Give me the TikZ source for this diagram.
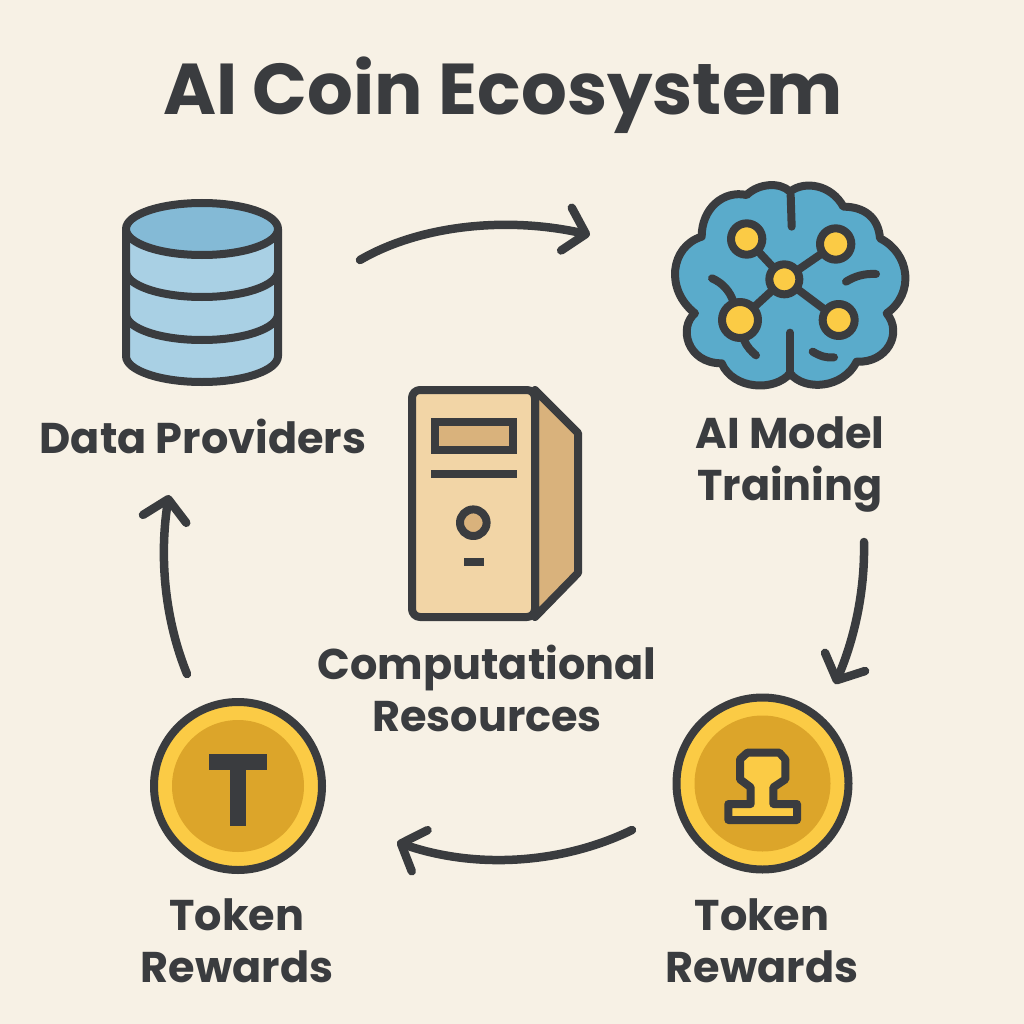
\documentclass[tikz,border=0pt]{standalone}
\usepackage{fontspec}
\setmainfont{Poppins}
\usetikzlibrary{arrows.meta,bending}
\definecolor{bg}{HTML}{F7F1E5}
\definecolor{ink}{HTML}{3A3C3F}
\definecolor{brainblue}{HTML}{5AABCB}
\definecolor{dbtop}{HTML}{84BAD6}
\definecolor{dbband}{HTML}{A9D0E4}
\definecolor{pc}{HTML}{F2D5A6}
\definecolor{pcdark}{HTML}{D9B27C}
\definecolor{gold}{HTML}{FBCB45}
\definecolor{golddark}{HTML}{DCA52A}
\tikzset{
  icon/.style={draw=ink,line width=8pt,line join=round,line cap=round},
  flow/.style={draw=ink,line width=8.5pt,line cap=round,-{Straight Barb[length=20pt,width=44pt,round,flex]}},
  label/.style={font=\fontsize{43}{52}\selectfont\bfseries,text=ink,align=center,inner sep=0pt},
  title/.style={font=\fontsize{72}{80}\selectfont\bfseries,text=ink,inner sep=0pt},
  neuron/.style={icon,fill=gold}
}
\begin{document}
\begin{tikzpicture}[x=1pt,y=-1pt]
\path[use as bounding box,fill=bg] (0,0) rectangle (1024,1024);
\node[title] (ttl) at (503,95) {AI Coin Ecosystem};
% database
\path[icon,fill=dbband] (126,229) -- (126,356) arc[start angle=180,end angle=360,x radius=76,y radius=-26] -- (278,229) -- cycle;
\draw[icon] (126,271) arc[start angle=180,end angle=360,x radius=76,y radius=-26];
\draw[icon] (126,314) arc[start angle=180,end angle=360,x radius=76,y radius=-26];
\path[icon,fill=dbtop] (202,229) ellipse[x radius=76,y radius=26];
\node[label] (data) at (203,436) {Data Providers};
% brain
\begin{scope}[shift={(640,170)},scale=1/3]
\path[icon,fill=brainblue] (450,65) .. controls (420,35) and (355,40) .. (320,75)
 .. controls (250,60) and (185,115) .. (185,200)
 .. controls (90,230) and (75,360) .. (165,430)
 .. controls (115,470) and (140,580) .. (245,580)
 .. controls (280,660) and (405,665) .. (450,610)
 .. controls (495,665) and (610,655) .. (650,575)
 .. controls (740,580) and (790,490) .. (740,430)
 .. controls (825,370) and (810,250) .. (720,205)
 .. controls (715,140) and (670,110) .. (610,110)
 .. controls (575,45) and (495,30) .. (450,65) -- cycle;
\draw[icon] (452,75) -- (455,170);
\draw[icon] (450,488) -- (450,605);
\draw[icon] (216,325) .. controls (250,340) and (270,365) .. (280,395);
\draw[icon] (312,510) .. controls (320,530) and (335,545) .. (348,556);
\draw[icon] (618,335) .. controls (645,318) and (675,310) .. (708,312);
\draw[icon] (518,545) .. controls (540,558) and (560,565) .. (582,562);
\coordinate (hub) at (433,328);
\coordinate (n1) at (320,207);
\coordinate (n2) at (587,222);
\coordinate (n3) at (300,450);
\coordinate (n4) at (596,450);
\draw[icon] (hub) -- (n1) (hub) -- (n2) (hub) -- (n3) (hub) -- (n4);
\path[neuron] (n1) circle (47);
\path[neuron] (n2) circle (47);
\path[neuron] (n3) circle (54);
\path[neuron] (n4) circle (48);
\path[neuron] (hub) circle (45);
\end{scope}
\node[label] (train) at (790,464) {AI Model\\Training};
% server
\path[icon,fill=pcdark,miter limit=2] (535,390) -- (578,433) -- (578,573) -- (535,617) -- cycle;
\path[icon,fill=pc,rounded corners=8pt] (412,390) rectangle (535,617);
\path[icon,fill=pcdark,line cap=butt,line join=miter] (435,421.5) rectangle (512.5,450);
\draw[icon,line cap=butt] (431,474) -- (516.5,474);
\path[icon,fill=pcdark] (473.3,522.7) circle (13.3);
\fill[ink] (464,557.5) rectangle (484,566);
\node[label] (comp) at (487,688) {Computational\\Resources};
% right coin
\path[icon,fill=gold] (762.5,783.5) circle (86);
\fill[golddark] (762.5,783.5) circle (68);
\begin{scope}[shift={(660,680)},scale=1/3]
\path[icon,fill=gold] (262,218) -- (358,218) -- (376,238) -- (376,298) -- (340,322) -- (340,372) -- (411,372) -- (411,420) -- (205,420) -- (205,372) -- (272,372) -- (272,322) -- (240,298) -- (240,238) -- cycle;
\end{scope}
\node[label] (rw2) at (762,941) {Token\\Rewards};
% left coin
\path[icon,fill=gold] (238,786) circle (84);
\fill[golddark] (238,786) circle (66);
\fill[ink] (209,754) rectangle (267,770);
\fill[ink] (230,754) rectangle (246,826);
\node[label] (rw1) at (237,941) {Token\\Rewards};
% flows
\coordinate (a1s) at (360,260); \coordinate (a1e) at (590,235);
\coordinate (a2s) at (864,542); \coordinate (a2e) at (835,684);
\coordinate (a3s) at (632,830); \coordinate (a3e) at (397,842);
\coordinate (a4s) at (187,674); \coordinate (a4e) at (169,495);
\draw[flow] (a1s) .. controls (420,225) and (510,215) .. (a1e);
\draw[flow] (a2s) .. controls (865,590) and (855,640) .. (a2e);
\draw[flow] (a3s) .. controls (560,865) and (470,870) .. (a3e);
\draw[flow] (a4s) .. controls (165,620) and (158,555) .. (a4e);
\end{tikzpicture}
\end{document}
